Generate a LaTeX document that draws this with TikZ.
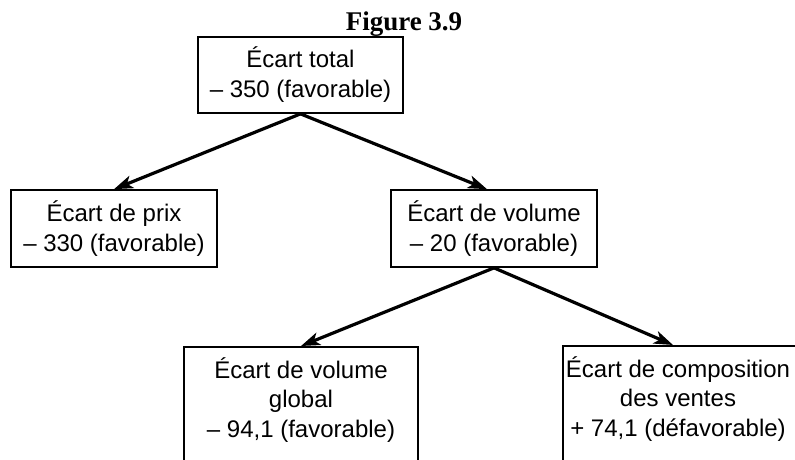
\documentclass[tikz,border=0pt]{standalone}
\usepackage{fontspec}
\setmainfont{Liberation Sans}
\newfontfamily\titlefont{Liberation Serif}
\usetikzlibrary{arrows.meta}
\begin{document}
\begin{tikzpicture}[x=1pt,y=-1pt,
  box/.style={draw, line width=1.7pt, inner sep=2pt, align=center, font=\fontsize{24}{30}\selectfont},
  txt/.style={inner sep=0pt, align=center, font=\fontsize{24}{29.5}\selectfont},
  arr/.style={line width=3.2pt, -{Stealth[length=19pt,width=13pt,inset=5pt]}}]
\useasboundingbox (0,0) rectangle (795,459);
\clip (0,0) rectangle (795,459);
\node[anchor=base, inner sep=0pt, font=\titlefont\bfseries\fontsize{27}{30}\selectfont] (title) at (404,30.5) {Figure 3.9};
\node[box, minimum width=205pt, minimum height=76pt] (top) at (300.5,75) {Écart total\\– 350 (favorable)};
\node[box, minimum width=206pt, minimum height=77pt] (left) at (114,228.5) {Écart de prix\\– 330 (favorable)};
\node[box, minimum width=206pt, minimum height=77pt] (mid) at (494,228.5) {Écart de volume\\– 20 (favorable)};
\node[box, minimum width=234pt, minimum height=150pt, anchor=north] (bl) at (301,346) {};
\node[box, minimum width=234pt, minimum height=150pt, anchor=north] (br) at (680,345) {};
\node[txt, anchor=north] (blt) at (301,357) {Écart de volume\\global\\– 94,1 (favorable)};
\node[txt, anchor=north] (brt) at (678,356) {Écart de composition\\des ventes\\+ 74,1 (défavorable)};
\draw[arr] (top.south) -- (left.north);
\draw[arr] (top.south) -- ([xshift=-7pt]mid.north);
\draw[arr] (mid.south) -- (bl.north);
\draw[arr] (mid.south) -- ([xshift=-7pt]br.north);
\end{tikzpicture}
\end{document}
